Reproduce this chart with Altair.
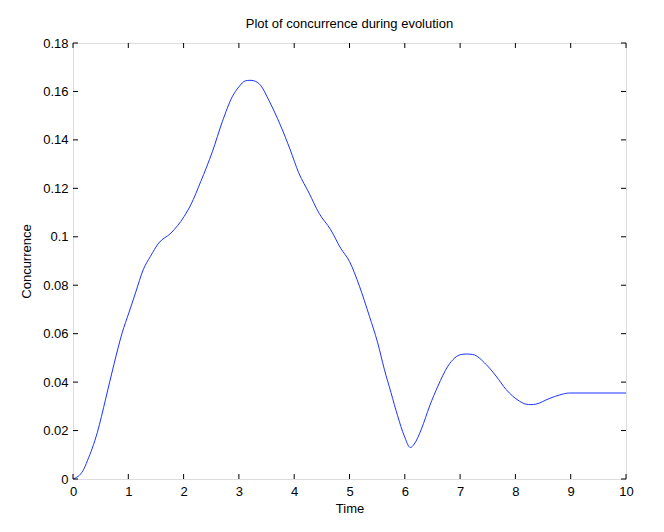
import altair as alt
import pandas as pd

# Curve
time = [0.0, 0.18, 0.26, 0.44, 0.59, 0.74, 0.89, 1.01, 1.13, 1.27, 1.40, 1.55, 1.77, 2.01,
        2.13, 2.31, 2.52, 2.70, 2.88, 3.00, 3.12, 3.20, 3.27, 3.39, 3.54, 3.75, 3.93, 4.08,
        4.27, 4.45, 4.66, 4.84, 5.00, 5.18, 5.36, 5.51, 5.63, 5.75, 5.87, 5.99, 6.10, 6.17,
        6.30, 6.45, 6.60, 6.78, 7.02, 7.12, 7.23, 7.47, 7.65, 7.83, 8.07, 8.19, 8.28, 8.37,
        8.61, 8.80, 8.98, 10.0]
concurrence = [0.0, 0.0034, 0.0075, 0.0192, 0.033, 0.0473, 0.0604, 0.0686, 0.0768, 0.0864,
               0.0919, 0.0974, 0.1015, 0.1084, 0.1132, 0.1228, 0.1351, 0.1475, 0.1578, 0.1619,
               0.1644, 0.1646, 0.1644, 0.1626, 0.1564, 0.1461, 0.1358, 0.1265, 0.118, 0.1097,
               0.1029, 0.0953, 0.0898, 0.0796, 0.0672, 0.0562, 0.0453, 0.0357, 0.0261, 0.0178,
               0.013, 0.0144, 0.0206, 0.0302, 0.0384, 0.0466, 0.0514, 0.0516, 0.0514, 0.0473,
               0.0425, 0.037, 0.0322, 0.0309, 0.0307, 0.0309, 0.0332, 0.0347, 0.0355, 0.0355]

x_ticks = [0, 1, 2, 3, 4, 5, 6, 7, 8, 9, 10]
y_ticks = [0, 0.02, 0.04, 0.06, 0.08, 0.1, 0.12, 0.14, 0.16, 0.18]

W, H = 553, 436
FONT = "Liberation Sans"

df = pd.DataFrame({"t": time, "c": concurrence})
xt = pd.DataFrame({"t": x_ticks})
yt = pd.DataFrame({"c": y_ticks})

xscale = alt.Scale(domain=[0, 10], nice=False, zero=False)
yscale = alt.Scale(domain=[0, 0.18], nice=False, zero=False)

line = alt.Chart(df).mark_line(color="#1a33ff", strokeWidth=1, interpolate="monotone").encode(
    x=alt.X("t:Q", scale=xscale, title="Time",
            axis=alt.Axis(values=x_ticks, ticks=False, domain=False, grid=False,
                          labelPadding=6, titlePadding=4, format="d", labelFlush=False,
                          titleFontWeight="normal", labelFontSize=13, titleFontSize=13,
                          labelFont=FONT, titleFont=FONT, labelColor="black",
                          titleColor="black")),
    y=alt.Y("c:Q", scale=yscale, title="Concurrence",
            axis=alt.Axis(values=y_ticks, ticks=False, domain=False, grid=False,
                          labelPadding=5, titlePadding=9, format="~g", labelFlush=False,
                          titleFontWeight="normal", labelFontSize=13, titleFontSize=13,
                          labelFont=FONT, titleFont=FONT, labelColor="black",
                          titleColor="black")),
)

tick_bottom = alt.Chart(xt).mark_rule(color="black", strokeWidth=1).encode(
    x=alt.X("t:Q", scale=xscale), y=alt.value(H), y2=alt.value(H - 5))
tick_top = alt.Chart(xt).mark_rule(color="black", strokeWidth=1).encode(
    x=alt.X("t:Q", scale=xscale), y=alt.value(0), y2=alt.value(5))
tick_left = alt.Chart(yt).mark_rule(color="black", strokeWidth=1).encode(
    y=alt.Y("c:Q", scale=yscale), x=alt.value(0), x2=alt.value(5))
tick_right = alt.Chart(yt).mark_rule(color="black", strokeWidth=1).encode(
    y=alt.Y("c:Q", scale=yscale), x=alt.value(W), x2=alt.value(W - 5))

chart = alt.layer(line, tick_bottom, tick_top, tick_left, tick_right).properties(
    width=W, height=H,
    title=alt.TitleParams("Plot of concurrence during evolution", fontSize=13,
                          fontWeight="normal", font=FONT, color="black", offset=6),
    autosize=alt.AutoSizeParams(type="none"),
    padding={"left": 65, "top": 35, "right": 30, "bottom": 40},
).configure_view(stroke="black", strokeWidth=1).configure(background="white")

chart.save("out.html", embed_options={"renderer": "svg", "actions": False})
